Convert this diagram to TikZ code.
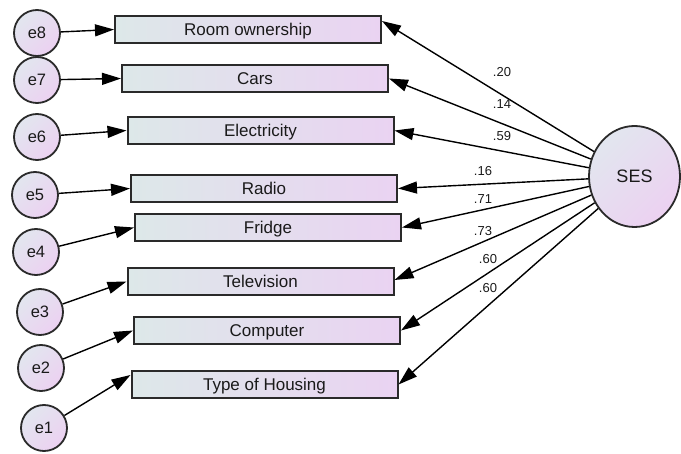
\documentclass[tikz,border=0pt]{standalone}
\usepackage{fontspec}
\setmainfont{Liberation Sans}
\usetikzlibrary{arrows.meta,shapes.geometric}

\definecolor{boxleft}{HTML}{DDE8E9}
\definecolor{boxright}{HTML}{EAD3F2}
\definecolor{circA}{HTML}{E2E6EF}
\definecolor{circB}{HTML}{ECD1F1}
\definecolor{edge}{HTML}{2A2A2A}
\definecolor{ink}{HTML}{1A1A1A}

\tikzset{
  observed/.style={draw=edge, line width=2pt, left color=boxleft, right color=boxright,
    minimum width=266pt, minimum height=27pt, inner sep=0pt, text=ink,
    text height=12.3pt, text depth=0pt,
    font=\fontsize{17}{20}\selectfont},
  errterm/.style={circle, draw=edge, line width=1.8pt, top color=circA, bottom color=circB,
    shading angle=45, minimum size=46pt, inner sep=0pt, text=ink,
    text height=12pt, text depth=0pt,
    font=\fontsize{16.5}{20}\selectfont},
  latent/.style={ellipse, draw=edge, line width=1.8pt, top color=circA, bottom color=circB,
    shading angle=45, minimum width=91pt, minimum height=101pt, inner sep=0pt, text=ink,
    text height=13pt, text depth=0pt,
    font=\fontsize{18}{20}\selectfont},
  path/.style={line width=1.4pt, black, -{Triangle[length=19pt,width=12pt]}},
  coef/.style={inner sep=0pt, text=ink, font=\fontsize{13}{14}\selectfont}
}

\begin{document}
\begin{tikzpicture}[x=1pt, y=-1pt]
  \useasboundingbox (0,0) rectangle (681,454);

  % observed indicators
  \node[observed] (b8) at (248,29.5)   {Room ownership};
  \node[observed] (b7) at (255,78.5)   {Cars};
  \node[observed] (b6) at (260.5,130.5){Electricity};
  \node[observed] (b5) at (264,188.5)  {Radio};
  \node[observed] (b4) at (268,227.5)  {Fridge};
  \node[observed] (b3) at (260.5,281.5){Television};
  \node[observed] (b2) at (267,330.5)  {Computer};
  \node[observed] (b1) at (264.5,384.5){Type of Housing};

  % error terms
  \node[errterm] (e8) at (37,33)  {e8};
  \node[errterm] (e7) at (37,80)  {e7};
  \node[errterm] (e6) at (37,137) {e6};
  \node[errterm] (e5) at (35,195) {e5};
  \node[errterm] (e4) at (36,252) {e4};
  \node[errterm] (e3) at (40,312) {e3};
  \node[errterm] (e2) at (41,368) {e2};
  \node[errterm] (e1) at (44,428) {e1};

  % latent factor
  \node[latent] (ses) at (634.5,176.5) {SES};

  % error paths
  \draw[path] (e8) -- (b8.west);
  \draw[path] (e7) -- (b7.west);
  \draw[path] (e6) -- (b6.west);
  \draw[path] (e5) -- (b5.west);
  \draw[path] (e4) -- (b4.west);
  \draw[path] (e3) -- (b3.west);
  \draw[path] (e2) -- (b2.west);
  \draw[path] (e1) -- ([yshift=9.5pt]b1.west);

  % factor loadings
  \draw[path] (ses) -- ([yshift=8.5pt]b8.east);
  \draw[path] (ses) -- (b7.east);
  \draw[path] (ses) -- (b6.east);
  \draw[path] (ses) -- (b5.east);
  \draw[path] (ses) -- (b4.east);
  \draw[path] (ses) -- ([yshift=1.5pt]b3.east);
  \draw[path] (ses) -- (b2.east);
  \draw[path] (ses) -- (b1.east);

  % loading estimates
  \node[coef] (l8) at (502,72)  {.20};
  \node[coef] (l7) at (502,104) {.14};
  \node[coef] (l6) at (502,136) {.59};
  \node[coef] (l5) at (483,171) {.16};
  \node[coef] (l4) at (483,199) {.71};
  \node[coef] (l3) at (483,231) {.73};
  \node[coef] (l2) at (488,259) {.60};
  \node[coef] (l1) at (488,288) {.60};
\end{tikzpicture}
\end{document}
